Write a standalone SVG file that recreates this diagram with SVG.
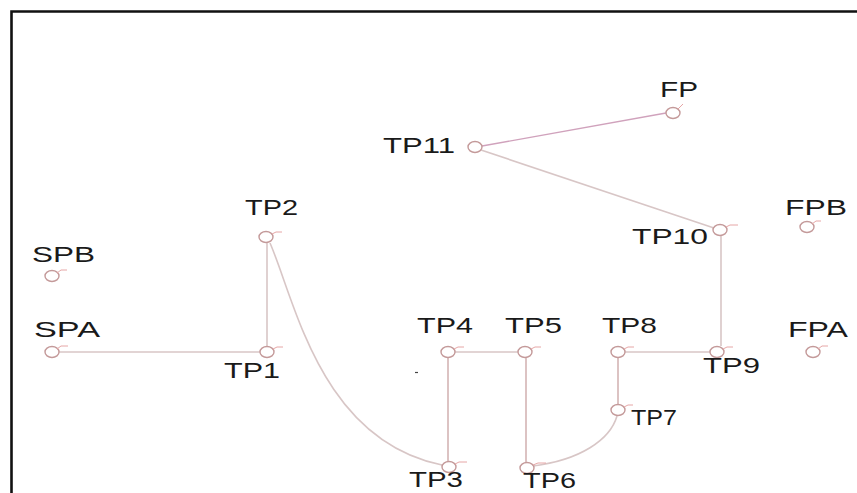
<svg xmlns="http://www.w3.org/2000/svg" width="857" height="493" viewBox="0 0 857 493">
<style>
.lbl{font-family:"Liberation Sans",Arial,sans-serif;font-size:22px;fill:#1a1a1a}
.nd{fill:#fff;stroke:#c49a9a;stroke-width:1.4}
.tick{fill:none;stroke:#e6a6a6;stroke-width:1}
.ln{fill:none;stroke:#d8c6c6;stroke-width:1.6}
.lnp{fill:none;stroke:#d4b4b4;stroke-width:1.6}
.lnm{fill:none;stroke:#d0a2bc;stroke-width:1.4}
</style>
<rect width="857" height="493" fill="#fff"/>
<path d="M11.5,493 V11.5 H857" fill="none" stroke="#111" stroke-width="2.6"/>
<line x1="415" y1="372.5" x2="418" y2="372.5" stroke="#444" stroke-width="1.2"/>
<g id="connectors">
<line class="ln" x1="59" y1="352" x2="260" y2="352"/>
<line class="ln" x1="267" y1="243" x2="267" y2="346"/>
<path class="ln" d="M270,243 C295,300 320,440 442,465"/>
<line class="ln" x1="455" y1="352" x2="518" y2="352"/>
<line class="lnp" x1="448" y1="358" x2="448" y2="461"/>
<line class="lnp" x1="526" y1="358" x2="526" y2="462"/>
<path class="ln" d="M533,466 C580,460 610,440 617,416"/>
<line class="lnp" x1="618" y1="358" x2="618" y2="404"/>
<line class="ln" x1="625" y1="352" x2="710" y2="352"/>
<line class="ln" x1="721" y1="236" x2="721" y2="346"/>
<line class="ln" x1="481" y1="150" x2="714" y2="228"/>
<line class="lnm" x1="482" y1="146" x2="666" y2="113"/>
</g>
<g id="FP"><ellipse class="nd" cx="673" cy="113" rx="7" ry="5.5"/><path class="tick" d="M678,109 L683,104"/><text class="lbl" x="660" y="97" textLength="38" lengthAdjust="spacingAndGlyphs">FP</text></g>
<g id="TP11"><ellipse class="nd" cx="475" cy="147" rx="7" ry="5.5"/><text class="lbl" x="383" y="153" textLength="72" lengthAdjust="spacingAndGlyphs">TP11</text></g>
<g id="TP2"><ellipse class="nd" cx="266" cy="237" rx="7" ry="5.5"/><path class="tick" d="M272,234 L276,232 H282"/><text class="lbl" x="245" y="215" textLength="53" lengthAdjust="spacingAndGlyphs">TP2</text></g>
<g id="FPB"><ellipse class="nd" cx="807" cy="227" rx="7" ry="5.5"/><path class="tick" d="M812,224 L816,221 H821"/><text class="lbl" x="785" y="215" textLength="62" lengthAdjust="spacingAndGlyphs">FPB</text></g>
<g id="TP10"><ellipse class="nd" cx="720" cy="230" rx="7" ry="5.5"/><path class="tick" d="M726,227 L730,225 H738"/><text class="lbl" x="632" y="244" textLength="76" lengthAdjust="spacingAndGlyphs">TP10</text></g>
<g id="SPB"><ellipse class="nd" cx="52" cy="276" rx="7" ry="5.5"/><path class="tick" d="M57,273 L61,270 H67"/><text class="lbl" x="32" y="262" textLength="63" lengthAdjust="spacingAndGlyphs">SPB</text></g>
<g id="SPA"><ellipse class="nd" cx="52" cy="352" rx="7" ry="5.5"/><path class="tick" d="M57,349 L61,346 H68"/><text class="lbl" x="34" y="337" textLength="66" lengthAdjust="spacingAndGlyphs">SPA</text></g>
<g id="TP1"><ellipse class="nd" cx="267" cy="352" rx="7" ry="5.5"/><path class="tick" d="M273,349 L277,347 H283"/><text class="lbl" x="224" y="378" textLength="56" lengthAdjust="spacingAndGlyphs">TP1</text></g>
<g id="TP4"><ellipse class="nd" cx="448" cy="352" rx="7" ry="5.5"/><path class="tick" d="M454,349 L458,347 H464"/><text class="lbl" x="417" y="333" textLength="56" lengthAdjust="spacingAndGlyphs">TP4</text></g>
<g id="TP5"><ellipse class="nd" cx="525" cy="352" rx="7" ry="5.5"/><path class="tick" d="M531,349 L535,347 H541"/><text class="lbl" x="505" y="333" textLength="57" lengthAdjust="spacingAndGlyphs">TP5</text></g>
<g id="TP8"><ellipse class="nd" cx="618" cy="352" rx="7" ry="5.5"/><path class="tick" d="M624,349 L628,347 H634"/><text class="lbl" x="602" y="333" textLength="55" lengthAdjust="spacingAndGlyphs">TP8</text></g>
<g id="TP9"><ellipse class="nd" cx="717" cy="352" rx="7" ry="5.5"/><path class="tick" d="M723,349 L727,347 H733"/><text class="lbl" x="703" y="373" textLength="57" lengthAdjust="spacingAndGlyphs">TP9</text></g>
<g id="FPA"><ellipse class="nd" cx="813" cy="352" rx="7" ry="5.5"/><path class="tick" d="M818,349 L822,346 H828"/><text class="lbl" x="788" y="337" textLength="60" lengthAdjust="spacingAndGlyphs">FPA</text></g>
<g id="TP7"><ellipse class="nd" cx="618" cy="410" rx="7" ry="5.5"/><path class="tick" d="M624,407 L628,405 H633"/><text class="lbl" x="631" y="425" textLength="46" lengthAdjust="spacingAndGlyphs">TP7</text></g>
<g id="TP3"><ellipse class="nd" cx="449" cy="467" rx="7" ry="5.5"/><path class="tick" d="M455,464 L459,462 H467"/><text class="lbl" x="409" y="487" textLength="54" lengthAdjust="spacingAndGlyphs">TP3</text></g>
<g id="TP6"><ellipse class="nd" cx="527" cy="468" rx="7" ry="5.5"/><path class="tick" d="M533,465 L538,463 H546"/><text class="lbl" x="523" y="488" textLength="53" lengthAdjust="spacingAndGlyphs">TP6</text></g>
</svg>
